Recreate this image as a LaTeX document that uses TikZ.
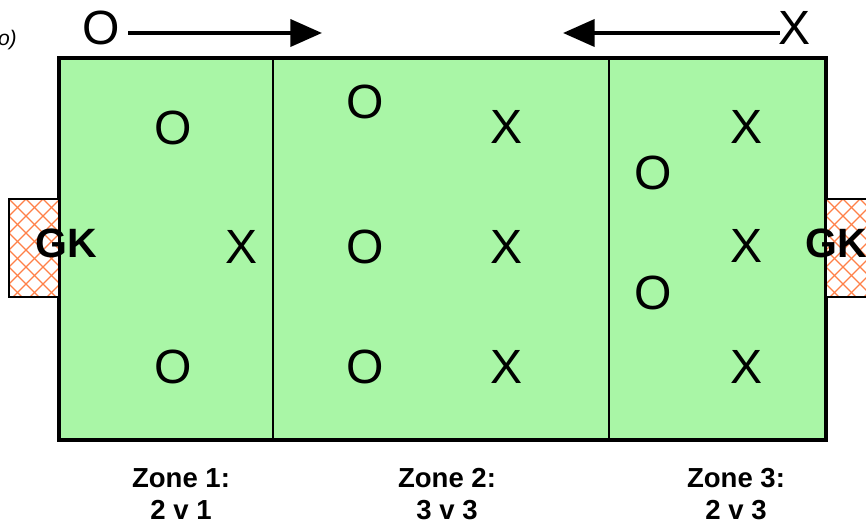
\documentclass[tikz,border=0pt]{standalone}
\usepackage{fontspec}
\setmainfont{Liberation Sans}
\usetikzlibrary{arrows.meta}
\definecolor{pitch}{RGB}{169,246,166}
\definecolor{netorange}{RGB}{255,128,72}

\begin{document}
\begin{tikzpicture}[x=0.3mm,y=-0.3mm,
    player/.style={inner sep=0pt,font=\fontsize{41}{41}\selectfont},
    keeper/.style={inner sep=0pt,font=\fontsize{35}{35}\selectfont\bfseries},
    zonelabel/.style={inner sep=0pt,align=center,anchor=base,font=\fontsize{23.5}{26.5}\selectfont\bfseries},
    runarrow/.style={line width=3.4pt,-{Triangle[length=27pt,width=23pt]}},
    goalbox/.style={draw=black,line width=1.8pt}]
	\useasboundingbox (0,0) rectangle (866,523);
	% pitch and zone lines
	\draw[fill=pitch,line width=3.8pt] (59,58) rectangle (826,440);
	\draw[line width=1.7pt] (273,58) -- (273,440);
	\draw[line width=1.7pt] (609,58) -- (609,440);
	% goals with netting
	\foreach \gx/\gw in {9/50,826/50}{
		\fill[white] (\gx,199) rectangle ++(\gw,98);
		\begin{scope}
			\clip (\gx,199) rectangle ++(\gw,98);
			\foreach \c in {-119,-102,...,136}{
				\draw[netorange,line width=1pt] (\gx+\c,199) -- ++(100,100);
				\draw[netorange,line width=1pt] (\gx+\c,199) -- ++(-100,100);
			}
		\end{scope}
		\draw[goalbox] (\gx,199) rectangle ++(\gw,98);
	}
	\node[keeper] (gkL) at (66,243) {GK};
	\node[keeper] (gkR) at (836,243) {GK};
	% attacking directions
	\node[player] (dirO) at (101,28) {O};
	\coordinate (dirOend) at (322,33);
	\draw[runarrow] ([xshift=7pt]dirO.east |- dirOend) -- (dirOend);
	\node[player] (dirX) at (795,28) {X};
	\coordinate (dirXend) at (563,33);
	\draw[runarrow] ([xshift=1pt]dirX.west |- dirXend) -- (dirXend);
	\node[inner sep=0pt,anchor=east,font=\fontsize{18}{18}\selectfont\itshape] (note) at (17,40) {o)};
	% zone 1
	\node[player] (o1a) at (173,128) {O};
	\node[player] (o1b) at (173,367) {O};
	\node[player] (x1a) at (242,247) {X};
	% zone 2
	\node[player] (o2a) at (365,102) {O};
	\node[player] (o2b) at (365,247) {O};
	\node[player] (o2c) at (365,367) {O};
	\node[player] (x2a) at (507,127) {X};
	\node[player] (x2b) at (507,247) {X};
	\node[player] (x2c) at (507,367) {X};
	% zone 3
	\node[player] (o3a) at (653,173) {O};
	\node[player] (o3b) at (653,293) {O};
	\node[player] (x3a) at (747,127) {X};
	\node[player] (x3b) at (747,246) {X};
	\node[player] (x3c) at (747,367) {X};
	% zone labels
	\node[zonelabel] (z1) at (181,519) {Zone 1:\\2 v 1};
	\node[zonelabel] (z2) at (447,519) {Zone 2:\\3 v 3};
	\node[zonelabel] (z3) at (736,519) {Zone 3:\\2 v 3};
\end{tikzpicture}
\end{document}
